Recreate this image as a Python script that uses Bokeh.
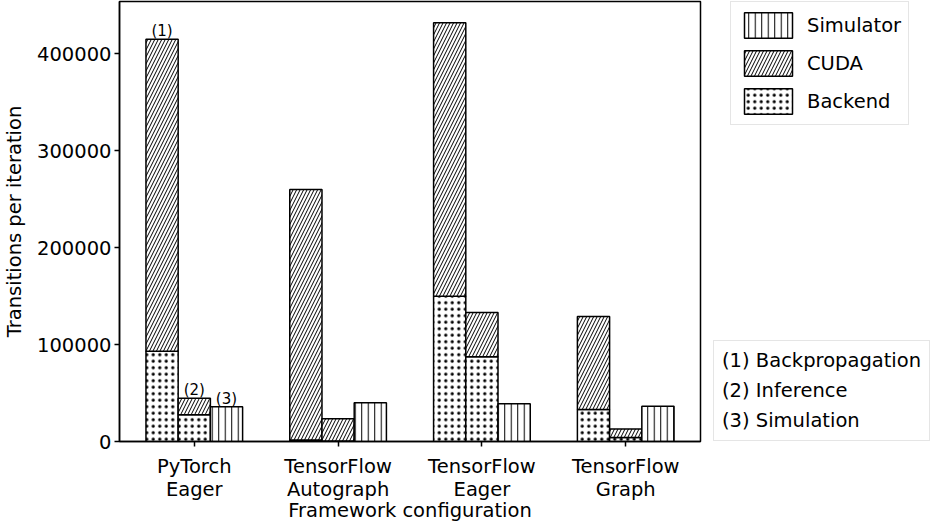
from bokeh.plotting import figure
from bokeh.layouts import row, column
from bokeh.models import Range1d, Legend, LegendItem, ColumnDataSource, FixedTicker
from bokeh.core.properties import value
from bokeh.embed import file_html
from bokeh.resources import INLINE

# ---- data ----
categories = ["PyTorch\nEager", "TensorFlow\nAutograph", "TensorFlow\nEager", "TensorFlow\nGraph"]
backprop_backend = [93000, 1500, 150000, 33000]
backprop_cuda = [322000, 258500, 282000, 96000]
inference_backend = [27500, 500, 87500, 4000]
inference_cuda = [17000, 23000, 45500, 9000]
simulation_sim = [35800, 40000, 39000, 36500]
phase_labels = ["(1)", "(2)", "(3)"]
legend_series = ["Simulator", "CUDA", "Backend"]
phase_notes = ["(1) Backpropagation", "(2) Inference", "(3) Simulation"]
y_ticks = [0, 100000, 200000, 300000, 400000]
x_title = "Framework configuration"
y_title = "Transitions per iteration"

FONT = "DejaVu Sans"
FS = "19.5px"
BW = 0.224
n = len(categories)
idx = list(range(n))
x_bp = [i - BW for i in idx]
x_inf = [i for i in idx]
x_sim = [i + BW for i in idx]

bp_total = [a + b for a, b in zip(backprop_backend, backprop_cuda)]
inf_total = [a + b for a, b in zip(inference_backend, inference_cuda)]

XR = (-0.52, 3.52)
P_W = 702      # main chart canvas width
P_H = 453      # main chart canvas height
STRIP_H = 68   # strip below carrying category names and x title
SIDE_W = 232   # side panel with legends

p = figure(width=P_W, height=P_H, output_backend="svg", toolbar_location=None,
           x_range=Range1d(*XR), y_range=Range1d(0, 454000),
           min_border_left=113, min_border_right=2, min_border_top=1, min_border_bottom=12)

common = dict(width=BW, fill_color="white", line_color="black", line_width=1.5,
              hatch_color="black")
styles = {
    "Backend": dict(hatch_pattern="dot", hatch_scale=6.5, hatch_weight=1.5),
    "CUDA": dict(hatch_pattern="right_diagonal_line", hatch_scale=7, hatch_weight=1.0),
    "Simulator": dict(hatch_pattern="vertical_line", hatch_scale=6.5, hatch_weight=1.0),
}

backend_src = ColumnDataSource(dict(x=x_bp + x_inf,
                                    bottom=[0] * (2 * n),
                                    top=backprop_backend + inference_backend))
cuda_src = ColumnDataSource(dict(x=x_bp + x_inf,
                                 bottom=backprop_backend + inference_backend,
                                 top=bp_total + inf_total))
sim_src = ColumnDataSource(dict(x=x_sim, bottom=[0] * n, top=simulation_sim))

p.vbar(x="x", bottom="bottom", top="top", source=backend_src, **common, **styles["Backend"])
p.vbar(x="x", bottom="bottom", top="top", source=cuda_src, **common, **styles["CUDA"])
p.vbar(x="x", bottom="bottom", top="top", source=sim_src, **common, **styles["Simulator"])

# phase labels above the PyTorch bars
lab_src = ColumnDataSource(dict(x=[x_bp[0], x_inf[0], x_sim[0]],
                                y=[bp_total[0], inf_total[0], simulation_sim[0]],
                                t=phase_labels))
p.text(x="x", y="y", text="t", source=lab_src, text_align="center",
       text_baseline="bottom", text_font=value(FONT), text_font_size="15px",
       text_color="black", y_offset=1)

# axes
p.xgrid.visible = False
p.ygrid.visible = False
p.outline_line_color = "black"
p.outline_line_width = 1.5
p.outline_line_alpha = 1.0

p.xaxis.ticker = FixedTicker(ticks=idx)
p.xaxis.major_label_overrides = {i: "" for i in idx}
p.yaxis.ticker = FixedTicker(ticks=y_ticks)
p.yaxis.major_label_overrides = {t: str(t) for t in y_ticks}
p.yaxis.axis_label = y_title

for ax in (p.xaxis[0], p.yaxis[0]):
    ax.axis_line_color = "black"
    ax.axis_line_width = 1.5
    ax.major_tick_line_color = "black"
    ax.major_tick_line_width = 1.5
    ax.major_tick_out = 5
    ax.major_tick_in = 0
    ax.minor_tick_line_color = None
    ax.major_label_text_font = FONT
    ax.major_label_text_font_size = FS
    ax.major_label_text_color = "black"
    ax.axis_label_text_font = FONT
    ax.axis_label_text_font_size = FS
    ax.axis_label_text_font_style = "normal"
    ax.axis_label_text_color = "black"
    ax.axis_label_text_line_height = 1.0
    ax.major_label_standoff = 3
p.yaxis[0].axis_label_standoff = 8
p.xaxis[0].major_label_standoff = 0

# strip below the chart: category names + x title
p3 = figure(width=P_W, height=STRIP_H, output_backend="svg", toolbar_location=None,
            x_range=Range1d(*XR), y_range=Range1d(0, STRIP_H),
            x_axis_location=None, y_axis_location=None,
            min_border_left=113, min_border_right=2, min_border_top=0, min_border_bottom=0)
p3.xgrid.visible = False
p3.ygrid.visible = False
p3.outline_line_color = None
p3.text(x=idx, y=[STRIP_H - 24.5] * n, text=categories, text_align="center",
        text_baseline="middle", text_font=value(FONT), text_font_size=FS,
        text_line_height=1.0, text_color="black")
p3.text(x=[(XR[0] + XR[1]) / 2], y=[11], text=[x_title], text_align="center",
        text_baseline="middle", text_font=value(FONT), text_font_size=FS,
        text_color="black")

# side panel figure carrying the two legends
p2 = figure(width=SIDE_W, height=P_H + STRIP_H, output_backend="svg", toolbar_location=None,
            x_range=Range1d(0, 1), y_range=Range1d(0, 1),
            x_axis_location=None, y_axis_location=None,
            min_border_left=0, min_border_right=0, min_border_top=0, min_border_bottom=0)
p2.frame_align = False
p2.xgrid.visible = False
p2.ygrid.visible = False
p2.outline_line_color = None

# legend swatch renderers: one row placed outside the visible range
off = dict(x=[5.0], top=[0.0])
lr = {}
for name in legend_series:
    lr[name] = p2.vbar(x="x", top="top", source=ColumnDataSource(dict(off)),
                       **common, **styles[name])

leg1 = Legend(items=[LegendItem(label=name, renderers=[lr[name]]) for name in legend_series],
              location=(28, 396), glyph_width=60, glyph_height=32, spacing=6,
              padding=7, margin=0, label_standoff=9,
              label_text_font=FONT, label_text_font_size=FS, label_text_color="black",
              border_line_color="#cccccc", border_line_width=1, background_fill_alpha=1.0)
p2.add_layout(leg1)

dummy = p2.vbar(x="x", top="top", source=ColumnDataSource(dict(off)), width=0.1,
                fill_alpha=0, line_alpha=0)
leg2 = Legend(items=[LegendItem(label=t, renderers=[dummy]) for t in phase_notes],
              location=(11, 80), glyph_width=0, glyph_height=22, spacing=7,
              padding=8, margin=0, label_standoff=0,
              label_text_font=FONT, label_text_font_size=FS, label_text_color="black",
              border_line_color="#cccccc", border_line_width=1, background_fill_alpha=1.0)
p2.add_layout(leg2)

layout = row(column(p, p3, spacing=0), p2, spacing=0)
open("out.html", "w").write(file_html(layout, INLINE))
